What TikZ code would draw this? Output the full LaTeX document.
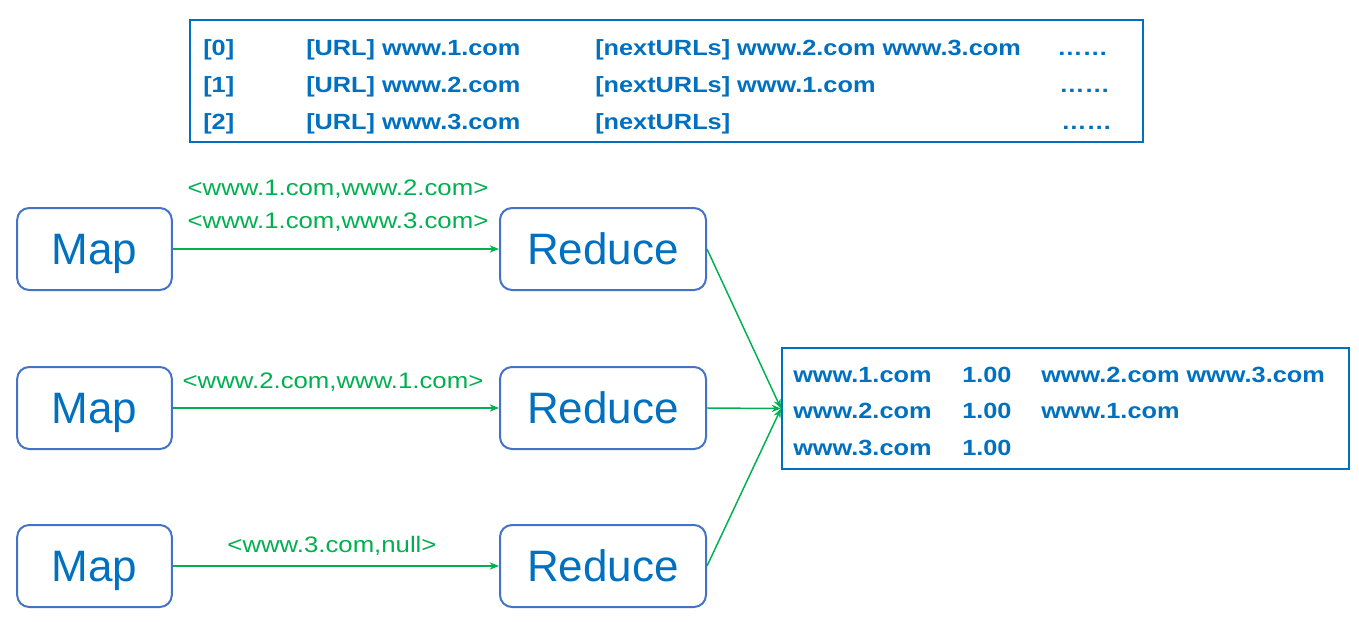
\documentclass[tikz,border=0pt]{standalone}
\usepackage{fontspec}
\setmainfont{Liberation Sans}
\newfontfamily\widefont[FakeStretch=1.15]{Liberation Sans}
\usetikzlibrary{arrows.meta}
\definecolor{tblue}{HTML}{0070C0}
\definecolor{bblue}{HTML}{4472C4}
\definecolor{agreen}{HTML}{00B050}
\tikzset{
  procbox/.style={draw=bblue, line width=1.5pt, rounded corners=9pt, minimum height=61.5pt, text=tblue, font=\fontsize{33}{36}\selectfont, inner sep=0pt, text height=23.6pt, text depth=0pt},
  mapbox/.style={procbox, minimum width=116pt},
  redbox/.style={procbox, minimum width=154.5pt},
  infobox/.style={draw=tblue, line width=1.5pt, inner sep=0pt},
  bt/.style={anchor=base west, inner sep=0pt, text=tblue, font=\widefont\bfseries\fontsize{16.5}{18}\selectfont},
  gl/.style={anchor=base, inner sep=0pt, text=agreen, font=\widefont\fontsize{16.8}{18}\selectfont},
  conn/.style={draw=agreen, line width=1.1pt, -{Stealth[length=7pt,width=5.5pt]}}
}
\begin{document}
\begin{tikzpicture}[x=0.75pt,y=-0.75pt]
\useasboundingbox (0,0) rectangle (1359,621);
% top box
\node[infobox, minimum width=714.75pt, minimum height=91.5pt] (top) at (666.5,81) {};
\node[bt] (t00) at (203,55) {[0]};
\node[bt] (t01) at (306,55) {[URL] www.1.com};
\node[bt] (t02) at (595,55) {[nextURLs] www.2.com www.3.com};
\node[bt] (t03) at (1057,55) {……};
\node[bt] (t10) at (203,92) {[1]};
\node[bt] (t11) at (306,92) {[URL] www.2.com};
\node[bt] (t12) at (595,92) {[nextURLs] www.1.com};
\node[bt] (t13) at (1059,92) {……};
\node[bt] (t20) at (203,129) {[2]};
\node[bt] (t21) at (306,129) {[URL] www.3.com};
\node[bt] (t22) at (595,129) {[nextURLs]};
\node[bt] (t23) at (1061,129) {……};
% map/reduce boxes
\node[mapbox] (m1) at (94.5,249) {Map};
\node[mapbox] (m2) at (94.5,408) {Map};
\node[mapbox] (m3) at (94.5,566) {Map};
\node[redbox] (r1) at (603,249) {Reduce};
\node[redbox] (r2) at (603,408) {Reduce};
\node[redbox] (r3) at (603,566) {Reduce};
% output box
\node[infobox, minimum width=425.25pt, minimum height=90.75pt] (out) at (1065.5,408.5) {};
\node[bt] (o00) at (793,382) {www.1.com};
\node[bt] (o01) at (962,382) {1.00};
\node[bt] (o02) at (1041,382) {www.2.com www.3.com};
\node[bt] (o10) at (793,418) {www.2.com};
\node[bt] (o11) at (962,418) {1.00};
\node[bt] (o12) at (1041,418) {www.1.com};
\node[bt] (o20) at (793,455) {www.3.com};
\node[bt] (o21) at (962,455) {1.00};
% labels
\node[gl] (l1a) at (338,195) {<www.1.com,www.2.com>};
\node[gl] (l1b) at (338,228) {<www.1.com,www.3.com>};
\node[gl] (l2) at (333,388) {<www.2.com,www.1.com>};
\node[gl] (l3) at (332,552) {<www.3.com,null>};
% connectors
\draw[conn] (m1.east) -- (r1.west);
\draw[conn] (m2.east) -- (r2.west);
\draw[conn] (m3.east) -- (r3.west);
\draw[conn] (r1.east) -- (out.west);
\draw[conn] (r2.east) -- (out.west);
\draw[conn] (r3.east) -- (out.west);
\end{tikzpicture}
\end{document}
